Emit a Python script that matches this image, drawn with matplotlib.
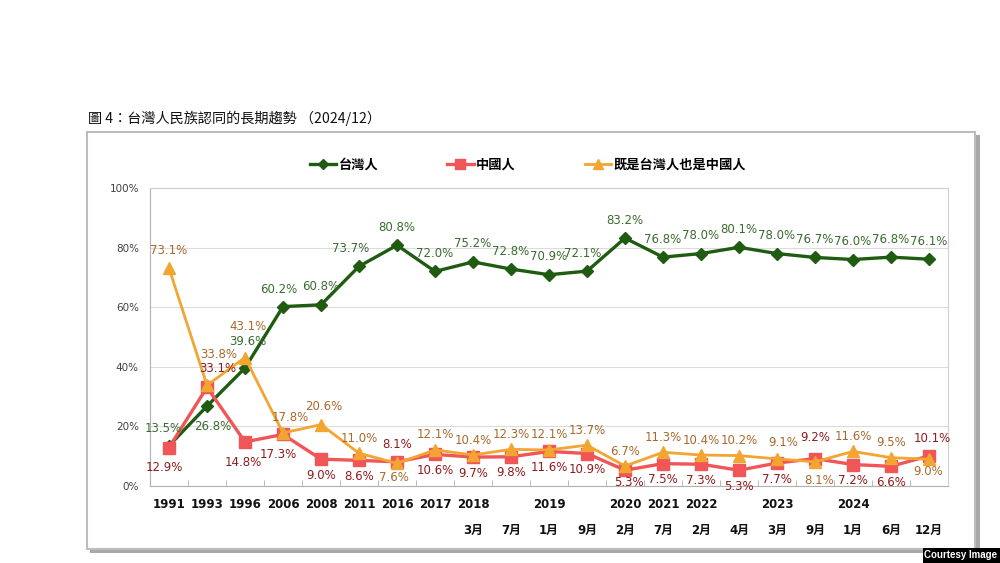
import matplotlib.pyplot as plt
from matplotlib.patches import Rectangle
from matplotlib.lines import Line2D

plt.rcParams['font.family'] = ['DejaVu Sans', 'Noto Sans CJK TC']

years = ['1991', '1993', '1996', '2006', '2008', '2011', '2016', '2017', '2018', '',
         '2019', '', '2020', '2021', '2022', '', '2023', '', '2024', '', '']
months = ['', '', '', '', '', '', '', '', '3月', '7月', '1月', '9月', '2月', '7月',
          '2月', '4月', '3月', '9月', '1月', '6月', '12月']

taiwanese = [13.5, 26.8, 39.6, 60.2, 60.8, 73.7, 80.8, 72.0, 75.2, 72.8, 70.9,
             72.1, 83.2, 76.8, 78.0, 80.1, 78.0, 76.7, 76.0, 76.8, 76.1]
chinese = [12.9, 33.1, 14.8, 17.3, 9.0, 8.6, 8.1, 10.6, 9.7, 9.8, 11.6,
           10.9, 5.3, 7.5, 7.3, 5.3, 7.7, 9.2, 7.2, 6.6, 10.1]
both = [73.1, 33.8, 43.1, 17.8, 20.6, 11.0, 7.6, 12.1, 10.4, 12.3, 12.1,
        13.7, 6.7, 11.3, 10.4, 10.2, 9.1, 8.1, 11.6, 9.5, 9.0]

W, H = 1000, 563
fig = plt.figure(figsize=(10, 5.63), dpi=100)


def fx(px):
    return px / W


def fy(py):
    return 1 - py / H


# outer frame with shadow
fig.patches.append(Rectangle((fx(90), fy(553)), fx(890), 553 / H - 135 / H,
                             transform=fig.transFigure, facecolor='#a8a8a8',
                             edgecolor='none', zorder=-2))
fig.patches.append(Rectangle((fx(87), fy(549)), fx(888), 549 / H - 132 / H,
                             transform=fig.transFigure, facecolor='white',
                             edgecolor='#bdbdbd', linewidth=1.5, zorder=-1))

ax = fig.add_axes([0.150, fy(486), 0.798, (486 - 188) / H])
x = list(range(len(taiwanese)))

green = '#1f5c12'
red = '#f05558'
orange = '#f3a531'
ax.plot(x, taiwanese, color=green, lw=2.4, marker='D', ms=6.5, zorder=3)
ax.plot(x, chinese, color=red, lw=2.4, marker='s', ms=8.5, zorder=4)
ax.plot(x, both, color=orange, lw=2.0, marker='^', ms=9, zorder=5)

ax.set_xlim(-0.5, len(x) - 0.5)
ax.set_ylim(0, 100)
ax.set_yticks(range(0, 101, 20))
ax.set_yticklabels([f'{v}%' for v in range(0, 101, 20)], fontsize=7.5, color='#404040')
ax.set_xticks(x)
ax.set_xticklabels([])
ax.set_xticks([i + 0.5 for i in x[:-1]], minor=True)
ax.tick_params(axis='x', which='major', length=0)
ax.tick_params(axis='x', which='minor', direction='in', length=4, color='#b0b0b0')
ax.tick_params(axis='y', length=0, pad=8)
ax.grid(axis='y', color='#dcdcdc', lw=0.8)
ax.set_axisbelow(True)
for s in ax.spines.values():
    s.set_color('#d0d0d0')
ax.spines['left'].set_color('#b0b0b0')
ax.spines['bottom'].set_color('#b0b0b0')

# x labels in two rows
tr = ax.get_xaxis_transform()
for i in x:
    if years[i]:
        ax.text(i, -19 / 298, years[i], transform=tr, ha='center', va='center',
                fontsize=8.5, fontweight='bold', color='#111111')
    if months[i]:
        ax.text(i, -44 / 298, months[i], transform=tr, ha='center', va='center',
                fontsize=8.5, fontweight='bold', color='#111111')

# data labels (pixel offsets)
g_off = {0: (-6, 17), 1: (6, -20), 2: (3, 26), 3: (-4, 17), 5: (-8, 18), 11: (-4, 18)}
r_off = {0: (-5, -20), 1: (11, 19), 2: (-2, -21), 3: (-5, -20), 6: (0, 17),
         12: (4, -12), 17: (0, 21), 20: (3, 17)}
o_off = {0: (0, 18), 1: (12, 31), 2: (3, 31), 3: (7, 15), 4: (3, 18), 6: (-3, -14),
         16: (6, 16), 17: (4, -19), 20: (-1, -12)}

for series, offs, default, col in [(taiwanese, g_off, (0, 18), '#3b6b30'),
                                   (chinese, r_off, (0, -16), '#8e1b1b'),
                                   (both, o_off, (0, 15), '#a9692c')]:
    for i, v in enumerate(series):
        dx, dy = offs.get(i, default)
        ax.annotate(f'{v:.1f}%', (i, v), xytext=(dx, dy), textcoords='offset pixels',
                    ha='center', va='center', fontsize=8.5, color=col, zorder=6,
                    annotation_clip=False)

# legend
handles = [Line2D([], [], color=green, lw=2.4, marker='D', ms=5),
           Line2D([], [], color=red, lw=2.4, marker='s', ms=7),
           Line2D([], [], color=orange, lw=2.0, marker='^', ms=7)]
leg = fig.legend(handles, ['台灣人', '中國人', '既是台灣人也是中國人'],
                 loc='center', bbox_to_anchor=(fx(528), fy(165)), ncol=3,
                 frameon=False, handlelength=2.0, handletextpad=0.2,
                 columnspacing=5.2,
                 prop={'family': ['Noto Sans CJK TC'], 'size': 9.5, 'weight': 'bold'})

fig.text(fx(88), fy(118), '圖 4：台灣人民族認同的長期趨勢 （2024/12）',
         ha='left', va='center', fontsize=10.2, family=['Noto Sans CJK TC'],
         color='#111111')

# courtesy tag
fig.patches.append(Rectangle((fx(923), 0), fx(77), 15 / H, transform=fig.transFigure,
                             facecolor='black', edgecolor='none', zorder=10))
fig.text(fx(961), fy(555.5), 'Courtesy Image', ha='center', va='center',
         fontsize=7, fontweight='bold', color='white', family=['Liberation Sans'],
         zorder=11)

fig.savefig('out.png', dpi=100)
